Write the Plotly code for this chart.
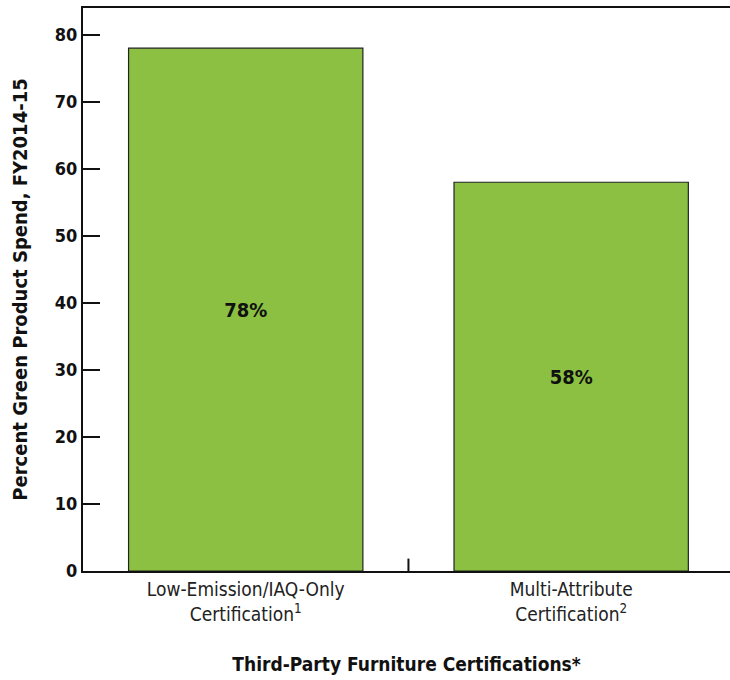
import plotly.graph_objects as go

categories = ["Low-Emission/IAQ-Only<br>Certification<sup>1</sup>", "Multi-Attribute<br>Certification<sup>2</sup>"]
values = [78, 58]
labels = ["78%", "58%"]
y_ticks = [0, 10, 20, 30, 40, 50, 60, 70, 80]

FONT = "Liberation Sans Narrow, DejaVu Sans Condensed, Arial Narrow, sans-serif"

fig = go.Figure(go.Bar(
    x=[0, 1], y=values, text=labels,
    textposition="inside", insidetextanchor="middle",
    textfont=dict(family=FONT, size=20, color="#111111", weight="bold"),
    marker=dict(color="#8BC043", line=dict(color="#222222", width=1.2)),
    width=0.72,
))

fig.update_layout(
    width=730, height=680,
    margin=dict(l=83, r=0, t=8, b=109),
    paper_bgcolor="white", plot_bgcolor="white",
    showlegend=False,
    font=dict(family=FONT, color="#111111"),
    xaxis=dict(
        range=[-0.5, 1.488], automargin=False,
        tickmode="array", tickvals=[0, 1], ticktext=categories,
        tickfont=dict(size=19, family=FONT, color="#222222"),
        ticks="", showline=True, linecolor="#111111", linewidth=2,
        mirror=True, showgrid=False, zeroline=False,
        title=dict(text="<b>Third-Party Furniture Certifications*</b>",
                   font=dict(size=19, family=FONT, color="#111111"), standoff=34),
    ),
    yaxis=dict(
        range=[0, 84], tickvals=y_ticks, automargin=False,
        tickfont=dict(size=18, family=FONT, color="#111111", weight="bold"),
        ticks="inside", ticklen=17, tickwidth=2, tickcolor="#111111",
        showline=True, linecolor="#111111", linewidth=2,
        showgrid=False, zeroline=False,
        title=dict(text="<b>Percent Green Product Spend, FY2014-15</b>",
                   font=dict(size=20, family=FONT, color="#111111"), standoff=22),
    ),
)

# category boundary tick between the two bars
fig.add_shape(type="line", xref="x", yref="paper", x0=0.5, x1=0.5, y0=0, y1=0.022,
              line=dict(color="#111111", width=2))

fig.write_html("out.html", config={"displayModeBar": False},
               post_script="document.body.style.margin='0';document.body.style.overflow='hidden';")
